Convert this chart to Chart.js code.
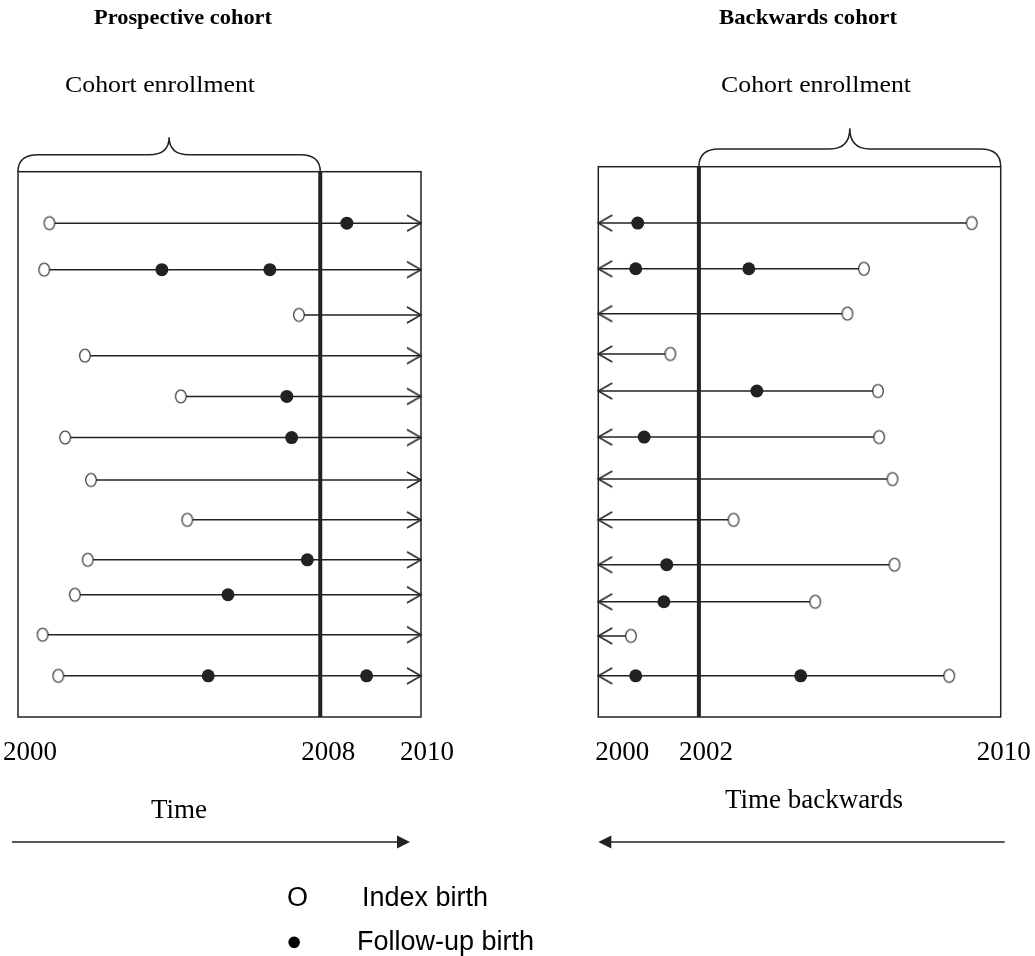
<!DOCTYPE html>
<html>
<head>
<meta charset="utf-8">
<title>Prospective and backwards cohort</title>
<script src="https://cdn.jsdelivr.net/npm/chart.js@4.4.1/dist/chart.umd.min.js"></script>
<style>
  html, body { margin: 0; padding: 0; background: #fff; }
  #wrap { position: relative; width: 1035px; height: 956px; }
  #wrap canvas { position: absolute; left: 0; top: 0; }
</style>
</head>
<body>
<div id="wrap">
  <canvas id="prospective" width="1035" height="956"></canvas>
  <canvas id="backwards" width="1035" height="956"></canvas>
</div>
<script>
// the diagram is a sketch, not to scale: years are spread evenly across each box
const startYear = 2000;
const endYear = 2010;

// prospective cohort: one row per woman (row position)
const rowsLeft   = [1, 2.13, 3.23, 4.22, 5.21, 6.21, 7.24, 8.21, 9.18, 10.03, 11.0, 12];
const indexLeft  = [2000.78, 2000.65, 2006.97, 2001.66, 2004.04, 2001.17, 2001.81, 2004.2, 2001.73, 2001.41, 2000.61, 2001.0];
const followLeft = [[2008.16], [2003.57, 2006.25], [], [], [2006.67], [2006.79], [], [], [2007.18], [2005.21], [], [2004.72, 2008.65]];
const cutLeft    = 2007.5;
const ticksLeft  = [2000, 2007.5, 2010];
const labelsLeft = ['2000', '2008', '2010'];

// backwards cohort
const rowsRight   = [1, 2.11, 3.2, 4.18, 5.08, 6.2, 7.22, 8.21, 9.3, 10.2, 11.03, 12];
const indexRight  = [2009.28, 2006.6, 2006.19, 2001.79, 2006.95, 2006.98, 2007.31, 2003.36, 2007.36, 2005.39, 2000.81, 2008.72];
const followRight = [[2000.98], [2000.93, 2003.74], [], [], [2003.94], [2001.14], [], [], [2001.7], [2001.63], [], [2000.93, 2005.03]];
const cutRight    = 2002.5;
const ticksRight  = [2000, 2002.5, 2010];
const labelsRight = ['2000', '2002', '2010'];

const ink = '#222';
const serif = '"Liberation Serif", "Times New Roman", serif';
const sans = '"Liberation Sans", Arial, sans-serif';

// marker images
function openMarker() {
  const c = document.createElement('canvas');
  c.width = 14; c.height = 17;
  const g = c.getContext('2d');
  g.beginPath();
  g.ellipse(7, 8.5, 5.3, 6.5, 0, 0, Math.PI * 2);
  g.fillStyle = '#fff'; g.fill();
  g.lineWidth = 1.1; g.strokeStyle = ink; g.stroke();
  return c;
}
function chevron(dir) {
  const c = document.createElement('canvas');
  c.width = 34; c.height = 22;
  const g = c.getContext('2d');
  g.strokeStyle = ink; g.lineWidth = 1.5;
  g.beginPath();
  g.moveTo(17 - dir * 14, 3);
  g.lineTo(17, 11);
  g.lineTo(17 - dir * 14, 19);
  g.stroke();
  return c;
}
const openImg = openMarker();

function buildDatasets(rows, index, follow, arrowEnd, arrowImg) {
  const sets = [];
  sets.push({
    type: 'scatter',
    data: index.map((x, i) => ({x: x, y: rows[i]})),
    pointStyle: openImg, pointRadius: 6,
    order: 0, clip: false
  });
  const dots = [];
  follow.forEach((xs, i) => xs.forEach(x => dots.push({x: x, y: rows[i]})));
  sets.push({
    type: 'scatter',
    data: dots,
    pointStyle: 'circle', pointRadius: 6.5,
    backgroundColor: ink, borderColor: ink, borderWidth: 0,
    order: 0, clip: false
  });
  rows.forEach((y, i) => {
    sets.push({
      type: 'line',
      data: [{x: index[i], y: y}, {x: arrowEnd, y: y}],
      borderColor: ink, borderWidth: 1.5,
      pointRadius: [0, 6], pointStyle: arrowImg,
      order: 1, clip: false
    });
  });
  return sets;
}

function text(ctx, str, x, y, font, align, width) {
  ctx.save();
  ctx.font = font;
  ctx.fillStyle = '#000';
  ctx.textBaseline = 'alphabetic';
  const k = width ? width / ctx.measureText(str).width : 1;
  ctx.translate(x, y);
  ctx.scale(k, 1);
  ctx.textAlign = align;
  ctx.fillText(str, 0, 0);
  ctx.restore();
}

function brace(ctx, x0, x1, base, h1, h2, r) {
  const mid = (x0 + x1) / 2;
  const yh = base - h1, yt = yh - h2;
  ctx.beginPath();
  ctx.moveTo(x0, base);
  ctx.quadraticCurveTo(x0, yh, x0 + r, yh);
  ctx.lineTo(mid - r, yh);
  ctx.quadraticCurveTo(mid, yh, mid, yt);
  ctx.quadraticCurveTo(mid, yh, mid + r, yh);
  ctx.lineTo(x1 - r, yh);
  ctx.quadraticCurveTo(x1, yh, x1, base);
  ctx.stroke();
}

// box, enrolment line, brace, year labels and captions
const framePlugin = {
  id: 'frame',
  beforeDatasetsDraw(chart, args, o) {
    const ctx = chart.ctx, a = chart.chartArea, xs = chart.scales.x;
    ctx.save();
    ctx.strokeStyle = ink;
    ctx.lineWidth = 1.5;
    ctx.strokeRect(a.left, a.top, a.right - a.left, a.bottom - a.top);
    const cx = xs.getPixelForValue(o.cut);
    ctx.lineWidth = 4;
    ctx.beginPath();
    ctx.moveTo(cx, a.top); ctx.lineTo(cx, a.bottom);
    ctx.stroke();
    ctx.restore();
  },
  afterDraw(chart, args, o) {
    const ctx = chart.ctx, a = chart.chartArea, xs = chart.scales.x;
    ctx.save();
    ctx.strokeStyle = ink;
    ctx.lineWidth = 1.5;
    const b0 = xs.getPixelForValue(o.braceFrom), b1 = xs.getPixelForValue(o.braceTo);
    brace(ctx, b0, b1, a.top, o.braceH[0], o.braceH[1], 20);

    text(ctx, o.title, o.titleX, 24, 'bold 22px ' + serif, 'center', 178);
    text(ctx, 'Cohort enrollment', o.enrolX, 92, '24px ' + serif, 'center', 190);

    o.ticks.forEach((v, i) => {
      text(ctx, o.labels[i], xs.getPixelForValue(v) + o.shift[i], 760, '27px ' + serif, 'center');
    });
    text(ctx, o.caption, o.captionX, o.captionY, '27px ' + serif, 'center');

    // time arrow under the box
    const ay = 842;
    const tail = o.arrowDir > 0 ? a.left - 6 : a.right + 4;
    const tip = o.arrowDir > 0 ? a.right - 11 : a.left;
    ctx.lineWidth = 1.5;
    ctx.beginPath();
    ctx.moveTo(tail, ay); ctx.lineTo(tip - o.arrowDir * 12, ay);
    ctx.stroke();
    ctx.fillStyle = ink;
    ctx.beginPath();
    ctx.moveTo(tip, ay);
    ctx.lineTo(tip - o.arrowDir * 13, ay - 6.5);
    ctx.lineTo(tip - o.arrowDir * 13, ay + 6.5);
    ctx.closePath();
    ctx.fill();

    if (o.legend) {
      text(ctx, 'O', 287, 906, '27px ' + sans, 'left');
      text(ctx, 'Index birth', 362, 906, '27px ' + sans, 'left');
      text(ctx, '\u25CF', 286, 950, '27px ' + sans, 'left');
      text(ctx, 'Follow-up birth', 357, 950, '27px ' + sans, 'left');
    }
    ctx.restore();
  }
};

function panel(id, datasets, padding, yMin, frame) {
  new Chart(document.getElementById(id), {
    data: { datasets: datasets },
    options: {
      responsive: false,
      animation: false,
      events: [],
      layout: { padding: padding },
      scales: {
        x: { type: 'linear', min: startYear, max: endYear, display: false },
        y: { type: 'linear', min: yMin, max: 13, reverse: true, display: false }
      },
      plugins: {
        legend: { display: false },
        tooltip: { enabled: false },
        frame: frame
      }
    },
    plugins: [framePlugin]
  });
}

panel('prospective',
  buildDatasets(rowsLeft, indexLeft, followLeft, endYear, chevron(1)),
  { left: 18, right: 614, top: 171.7, bottom: 239 },
  -0.25,
  {
    cut: cutLeft, braceFrom: startYear, braceTo: cutLeft, braceH: [17, 17.5],
    title: 'Prospective cohort', titleX: 183, enrolX: 160,
    ticks: ticksLeft, labels: labelsLeft, shift: [12, 8, 6],
    caption: 'Time', captionX: 179, captionY: 818,
    arrowDir: 1, legend: true
  });

panel('backwards',
  buildDatasets(rowsRight, indexRight, followRight, startYear, chevron(-1)),
  { left: 598.3, right: 34.3, top: 166.7, bottom: 239 },
  -0.37,
  {
    cut: cutRight, braceFrom: cutRight, braceTo: endYear, braceH: [17.7, 20.7],
    title: 'Backwards cohort', titleX: 808, enrolX: 816,
    ticks: ticksRight, labels: labelsRight, shift: [24, 7, 3],
    caption: 'Time backwards', captionX: 814, captionY: 808,
    arrowDir: -1, legend: false
  });
</script>
</body>
</html>
